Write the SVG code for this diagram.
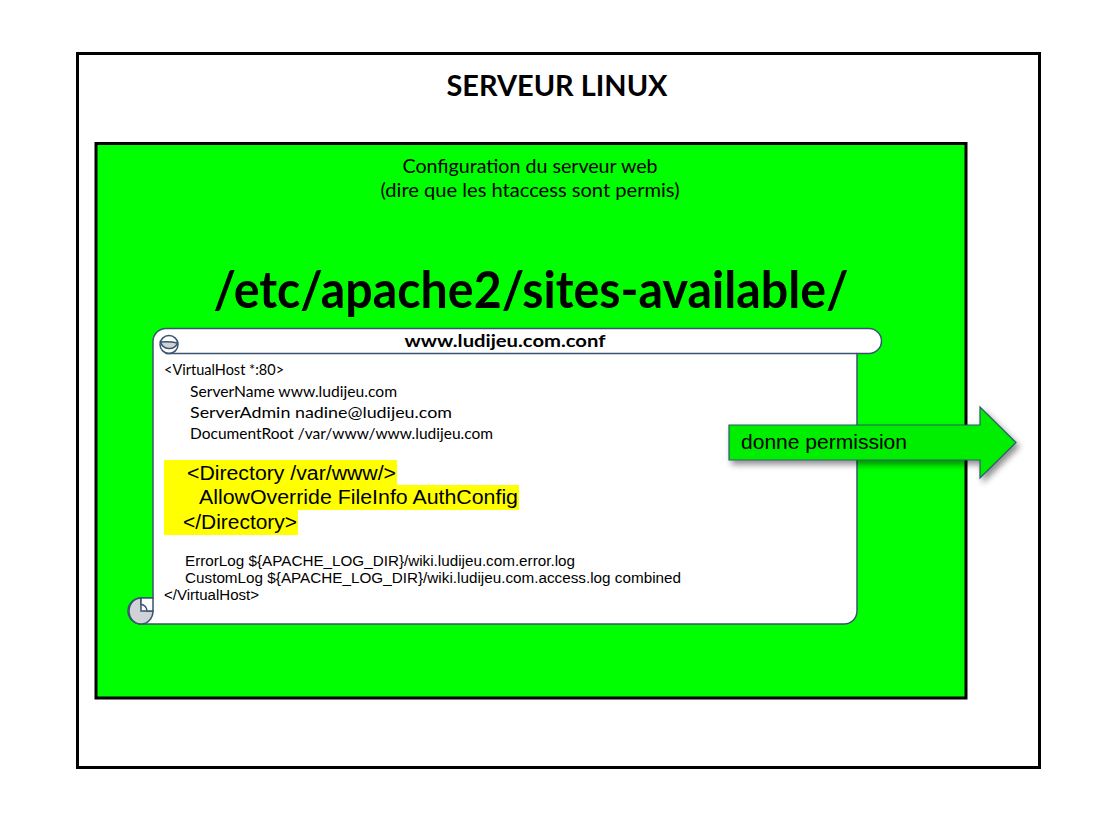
<svg xmlns="http://www.w3.org/2000/svg" width="1100" height="825" viewBox="0 0 1100 825">
<defs>
<style>
.cal{font-family:Lato,"Open Sans","Liberation Sans",sans-serif;fill:#000}
.ari{font-family:"Liberation Sans",Arial,sans-serif;fill:#000}
.scroll{stroke:#3a5470;stroke-width:1.5}
</style>
<filter id="sh" x="-10%" y="-30%" width="130%" height="180%">
<feDropShadow dx="3" dy="4" stdDeviation="3" flood-color="#000" flood-opacity="0.45"/>
</filter>
</defs>
<rect width="1100" height="825" fill="#fff"/>
<g id="serveur">
<rect x="77.5" y="53.5" width="962" height="714" fill="#fff" stroke="#000" stroke-width="3"/>
<text class="cal" x="557" y="96" font-size="29" font-weight="bold" text-anchor="middle" textLength="221" lengthAdjust="spacingAndGlyphs">SERVEUR LINUX</text>
</g>
<g id="config">
<rect x="96" y="143.5" width="870" height="554.5" fill="#00ff00" stroke="#000" stroke-width="3"/>
<text class="cal" x="530" y="173" font-size="18.5" text-anchor="middle" textLength="255" lengthAdjust="spacingAndGlyphs">Configuration du serveur web</text>
<text class="cal" x="530" y="197" font-size="18.5" text-anchor="middle" textLength="299" lengthAdjust="spacingAndGlyphs">(dire que les htaccess sont permis)</text>
<text class="cal" x="531" y="308" font-size="52" font-weight="bold" text-anchor="middle" textLength="635" lengthAdjust="spacingAndGlyphs">/etc/apache2/sites-available/</text>
</g>
<g id="scroll">
<path class="scroll" fill="#fff" d="M166,328.5 L869,328.5 A12.5,12.5 0 0 1 869,353.5 L857,353.5 L857,611 A13,13 0 0 1 844,624 L141,624 A13,13 0 0 1 141,598 L153,598 L153,341.5 A13,13 0 0 1 166,328.5 Z"/>
<path class="scroll" fill="none" d="M166,353.5 L857,353.5"/>
<circle class="scroll" cx="169" cy="344.5" r="9" fill="none"/>
<path class="scroll" fill="#d0d2d8" d="M160.5,342 Q169,341 177.5,343 A9,9 0 0 1 160.5,342 Z"/>
<path class="scroll" fill="#d0d2d8" d="M153,611 A12,13 0 1 1 141,598 L141,611 Z"/>
<path class="scroll" fill="#fff" d="M141,598 L153,598 L153,611 L147,611 A6,6.5 0 0 0 141,604.5 Z"/>
<text class="cal" x="505" y="347" font-size="17" font-weight="bold" text-anchor="middle" textLength="201" lengthAdjust="spacingAndGlyphs">www.ludijeu.com.conf</text>
<text class="cal" x="164" y="375" font-size="14.5">&lt;VirtualHost *:80&gt;</text>
<text class="cal" x="190" y="397" font-size="15" textLength="207" lengthAdjust="spacingAndGlyphs">ServerName www.ludijeu.com</text>
<text class="cal" x="190" y="418" font-size="15" textLength="262" lengthAdjust="spacingAndGlyphs">ServerAdmin nadine@ludijeu.com</text>
<text class="cal" x="190" y="439" font-size="15" textLength="303" lengthAdjust="spacingAndGlyphs">DocumentRoot /var/www/www.ludijeu.com</text>
<rect x="164" y="460" width="233" height="26" fill="#ffff00"/>
<rect x="164" y="485" width="355" height="25" fill="#ffff00"/>
<rect x="164" y="509" width="134" height="26" fill="#ffff00"/>
<text class="ari" x="187" y="480" font-size="20" textLength="209" lengthAdjust="spacingAndGlyphs">&lt;Directory /var/www/&gt;</text>
<text class="ari" x="199" y="504" font-size="20" textLength="319" lengthAdjust="spacingAndGlyphs">AllowOverride FileInfo AuthConfig</text>
<text class="ari" x="183" y="529" font-size="20" textLength="114" lengthAdjust="spacingAndGlyphs">&lt;/Directory&gt;</text>
<text class="ari" x="185" y="566" font-size="14" textLength="390" lengthAdjust="spacingAndGlyphs">ErrorLog ${APACHE_LOG_DIR}/wiki.ludijeu.com.error.log</text>
<text class="ari" x="185" y="583" font-size="14" textLength="496" lengthAdjust="spacingAndGlyphs">CustomLog ${APACHE_LOG_DIR}/wiki.ludijeu.com.access.log combined</text>
<text class="ari" x="164" y="600" font-size="14" textLength="95" lengthAdjust="spacingAndGlyphs">&lt;/VirtualHost&gt;</text>
</g>
<g id="connectors">
<path d="M729,425 L980,425 L980,407 L1016,442.5 L980,478 L980,460 L729,460 Z" fill="#00ee00" stroke="#2b5b6b" stroke-width="1.2" filter="url(#sh)"/>
<text class="ari" x="741" y="449" font-size="19.5" textLength="166" lengthAdjust="spacingAndGlyphs">donne permission</text>
</g>
</svg>
